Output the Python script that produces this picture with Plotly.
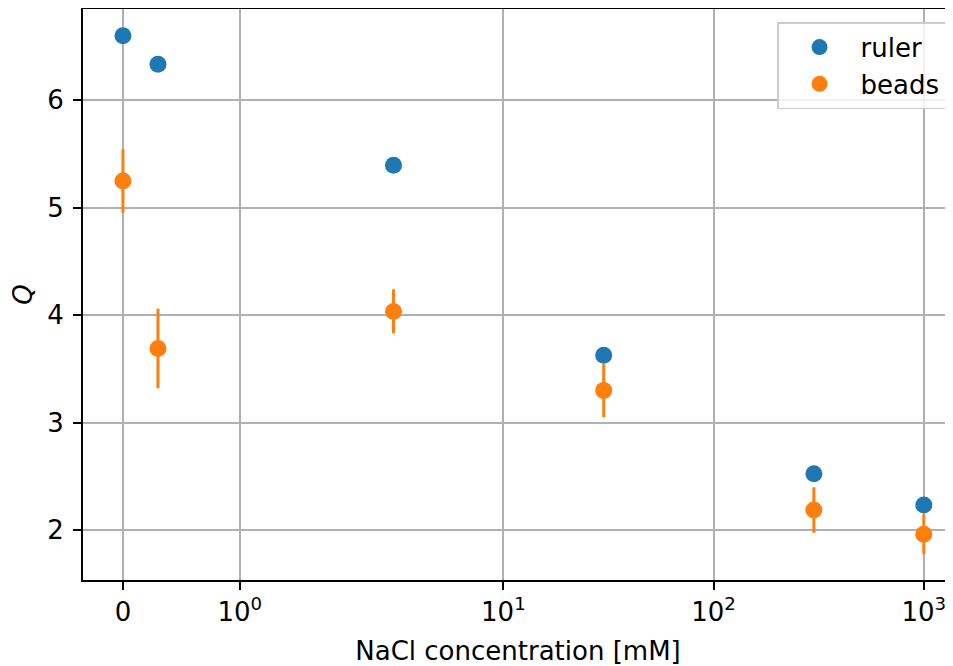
import math
import plotly.graph_objects as go

# Data
nacl_mM = [0, 0.3, 3, 30, 300, 1000]
ruler_Q = [6.60, 6.335, 5.395, 3.628, 2.525, 2.233]
beads_Q = [5.25, 3.69, 4.035, 3.30, 2.186, 1.96]
beads_err = [0.295, 0.37, 0.205, 0.25, 0.212, 0.185]
xtick_vals = [0, 1, 10, 100, 1000]
xtick_text = ["0", "10<sup>0</sup>", "10<sup>1</sup>", "10<sup>2</sup>", "10<sup>3</sup>"]
ytick_vals = [2, 3, 4, 5, 6]

# symlog transform (matplotlib style, linthresh=2, linscale=1, base 10), in decade units
LINTHRESH = 2.0
LINSCALE_ADJ = 1.0 / (1.0 - 1.0 / 10.0)


def symlog(x):
    if abs(x) <= LINTHRESH:
        return x / LINTHRESH * LINSCALE_ADJ
    s = 1 if x > 0 else -1
    return s * (LINSCALE_ADJ + math.log10(abs(x) / LINTHRESH))


xt = [symlog(v) for v in nacl_mM]
font = dict(family="DejaVu Sans", size=26, color="black")

fig = go.Figure()
fig.add_trace(go.Scatter(
    x=xt, y=ruler_Q, mode="markers", name="ruler",
    marker=dict(color="#1f77b4", size=17, line=dict(width=0)),
))
fig.add_trace(go.Scatter(
    x=xt, y=beads_Q, mode="markers", name="beads",
    marker=dict(color="#ff7f0e", size=17, line=dict(width=0)),
    error_y=dict(type="data", array=beads_err, visible=True,
                 color="#ff7f0e", thickness=3, width=0),
))

fig.update_layout(
    width=945, height=658,
    margin=dict(l=75, r=0, t=1, b=86),
    paper_bgcolor="white", plot_bgcolor="white",
    font=font,
    showlegend=True,
    legend=dict(x=0.992, y=0.977, xanchor="right", yanchor="top",
                bgcolor="rgba(255,255,255,0.8)", bordercolor="#cccccc",
                borderwidth=1.5, font=font, itemwidth=72),
)
fig.update_xaxes(
    range=[-0.190, 3.949], tickmode="array",
    tickvals=[symlog(v) for v in xtick_vals], ticktext=xtick_text,
    showgrid=True, gridcolor="#b0b0b0", gridwidth=2,
    showline=True, linecolor="black", linewidth=2, mirror=True,
    ticks="outside", ticklen=8, tickwidth=2, tickcolor="black",
    zeroline=False,
    title=dict(text="NaCl concentration [mM]", font=font, standoff=16),
)
fig.update_yaxes(
    range=[1.535, 6.85], tickmode="array", tickvals=ytick_vals,
    showgrid=True, gridcolor="#b0b0b0", gridwidth=2,
    showline=True, linecolor="black", linewidth=2, mirror=False,
    ticks="outside", ticklen=8, tickwidth=2, tickcolor="black",
    ticklabelstandoff=4,
    zeroline=False,
    title=dict(text="<i>Q</i>", font=font, standoff=20),
)

fig.write_html("out.html")
